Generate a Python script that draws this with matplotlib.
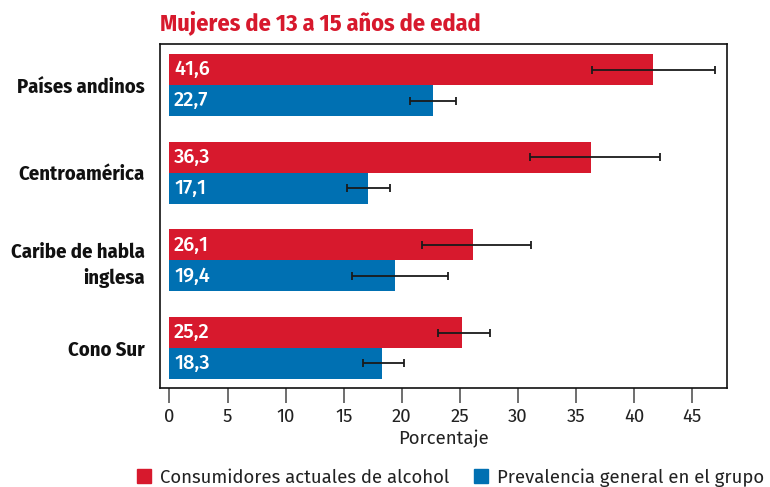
import matplotlib
matplotlib.use("Agg")
import matplotlib.pyplot as plt
from matplotlib.patches import Patch
import numpy as np

categories = ["Países andinos", "Centroamérica", "Caribe de habla\ninglesa", "Cono Sur"]
alcohol = [41.6, 36.3, 26.1, 25.2]
alcohol_low = [36.4, 31.0, 21.7, 23.1]
alcohol_high = [47.0, 42.2, 31.1, 27.6]
prevalence = [22.7, 17.1, 19.4, 18.3]
prev_low = [20.7, 15.3, 15.7, 16.7]
prev_high = [24.7, 19.0, 24.0, 20.2]
xticks = [0, 5, 10, 15, 20, 25, 30, 35, 40, 45]
series_names = ["Consumidores actuales de alcohol", "Prevalencia general en el grupo"]
title = "Mujeres de 13 a 15 años de edad"
xlabel = "Porcentaje"

RED = "#D7192D"
BLUE = "#0070B2"
COND = ["Fira Sans Condensed", "Barlow Semi Condensed", "DejaVu Sans"]
REG = ["Fira Sans", "Roboto", "DejaVu Sans"]

fig = plt.figure(figsize=(7.7, 4.87), dpi=100)
ax = fig.add_axes([159.5/770, 1-388/487, (727-159.5)/770, (388-44)/487])

y = np.arange(len(categories))
h = 0.353
a = np.array(alcohol); p = np.array(prevalence)
ax.barh(y - h/2, a, height=h, color=RED, zorder=2)
ax.barh(y + h/2, p, height=h, color=BLUE, zorder=2)
ax.errorbar(a, y - h/2, xerr=[a - np.array(alcohol_low), np.array(alcohol_high) - a],
            fmt="none", ecolor="#1a1a1a", elinewidth=1.3, capsize=2.6, capthick=1.3, zorder=3)
ax.errorbar(p, y + h/2, xerr=[p - np.array(prev_low), np.array(prev_high) - p],
            fmt="none", ecolor="#1a1a1a", elinewidth=1.3, capsize=2.6, capthick=1.3, zorder=3)

for yi, v in zip(y, alcohol):
    ax.text(0.4, yi - h/2, f"{v:.1f}".replace(".", ","), color="white", va="center", ha="left",
            fontsize=14.5, fontweight="medium", family=REG, zorder=4)
for yi, v in zip(y, prevalence):
    ax.text(0.4, yi + h/2, f"{v:.1f}".replace(".", ","), color="white", va="center", ha="left",
            fontsize=14.5, fontweight="medium", family=REG, zorder=4)

ax.set_xlim(-0.86, 48.0)
ax.set_ylim(3.456, -0.468)
ax.set_xticks(xticks)
ax.set_xticklabels([str(t) for t in xticks], family=REG, fontsize=13.4, fontweight="normal",
                   color="#222222")
ax.tick_params(axis="x", length=11, width=1.2, color="#555555", pad=3)
ax.set_yticks(y)
ax.set_yticklabels(categories, family=COND, fontsize=14.8, fontweight="bold", color="#111111",
                   linespacing=1.4)
ax.tick_params(axis="y", length=0, pad=10.5)
for s in ax.spines.values():
    s.set_color("#111111"); s.set_linewidth(1.2)
ax.set_xlabel(xlabel, family=REG, fontsize=13.4, fontweight="normal", color="#222222", labelpad=3)

fig.text(160/770, 1-23/487, title, color=RED, fontsize=17.4, fontweight="bold", family=COND,
         ha="left", va="center")

handles = [Patch(color=RED, label=series_names[0]), Patch(color=BLUE, label=series_names[1])]
leg = fig.legend(handles=handles, loc="center", bbox_to_anchor=(450.5/770, 1-477.5/487), ncol=2,
                 frameon=False, handlelength=0.77, handleheight=0.77, handletextpad=0.46,
                 columnspacing=1.34, borderpad=0, borderaxespad=0,
                 prop={"family": REG, "size": 13.4, "weight": "normal"})
for t in leg.get_texts():
    t.set_color("#222222")

fig.savefig("out.png", dpi=100)
